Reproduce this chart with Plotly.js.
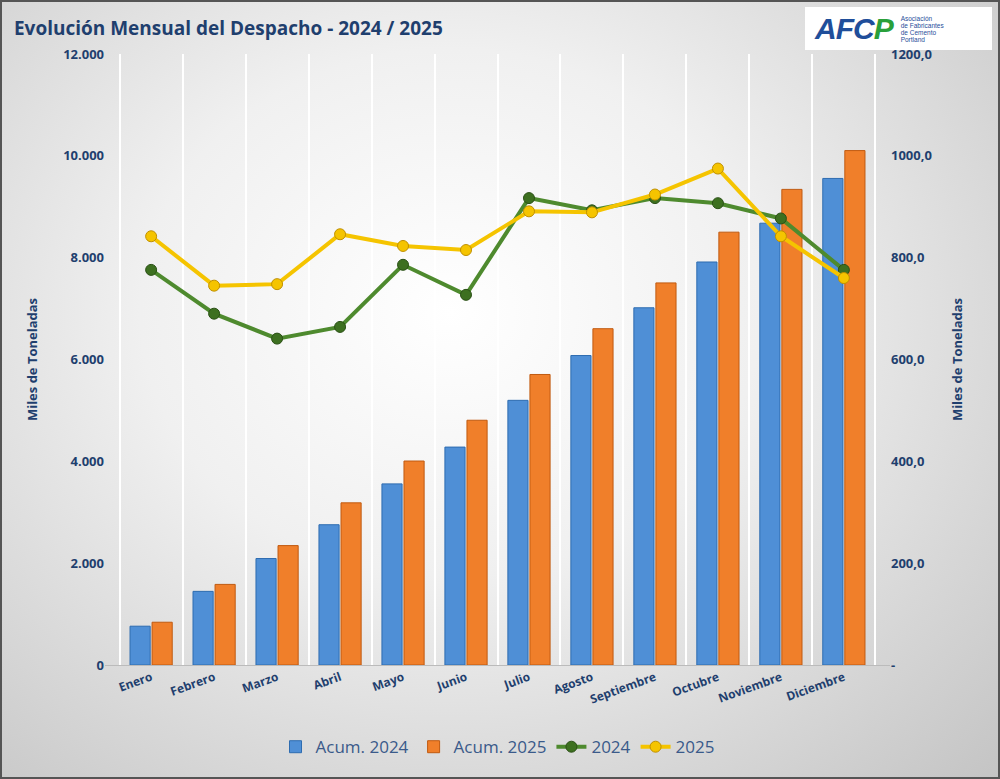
<!DOCTYPE html>
<html><head><meta charset="utf-8">
<script src="https://cdn.plot.ly/plotly-3.0.1.min.js"></script>
<style>
html,body{margin:0;padding:0;}
#wrap{width:996px;height:775px;border:2px solid #555;background:radial-gradient(ellipse at 45% 40%, #ffffff 0%, #f0f0f0 40%, #c4c4c4 100%);position:relative;}
#chart{width:996px;height:775px;}
#logo{position:absolute;left:803px;top:5px;width:187px;height:43px;background:#fff;display:flex;align-items:center;font-family:"Liberation Sans",Arial,sans-serif;}
#logo .big{font-size:30px;font-weight:bold;font-style:italic;color:#1f4e9a;margin-left:10px;letter-spacing:-1px}
#logo .big span{color:#2aa03a}
#logo .small{font-size:6.5px;color:#1f4e9a;margin-left:8px;line-height:7px}
</style></head><body>
<div id="wrap"><div id="chart"></div>
<div id="logo"><div class="big">AFC<span>P</span></div><div class="small">Asociación<br>de Fabricantes<br>de Cemento<br>Portland</div></div>
</div>
<script>
const months=["Enero","Febrero","Marzo","Abril","Mayo","Junio","Julio","Agosto","Septiembre","Octubre","Noviembre","Diciembre"];
const acum2024=[762,1446,2091,2755,3557,4280,5198,6078,7016,7915,8677,9556];
const acum2025=[840,1583,2345,3185,4006,4807,5706,6605,7504,8501,9341,10103];
const m2024=[776,690,641,664,786,727,917,893,917,907,877,776];
const m2025=[842,745,748,846,823,815,891,889,924,975,842,760];
const leftTicks=[0,2000,4000,6000,8000,10000,12000];
const leftText=["0","2.000","4.000","6.000","8.000","10.000","12.000"];
const rightTicks=[0,200,400,600,800,1000,1200];
const rightText=["-","200,0","400,0","600,0","800,0","1000,0","1200,0"];
const data=[
{type:"bar",name:"Acum. 2024",x:months,y:acum2024,marker:{color:"#4f8fd6",line:{color:"#2e6cb0",width:1}},width:0.32,offsetgroup:"a"},
{type:"bar",name:"Acum. 2025",x:months,y:acum2025,marker:{color:"#f07f2a",line:{color:"#c05a10",width:1}},width:0.32,offsetgroup:"b"},
{type:"scatter",mode:"lines+markers",name:"2024",x:months,y:m2024,yaxis:"y2",line:{color:"#4e8a2e",width:4},marker:{color:"#3d7020",size:11,line:{color:"#2a5015",width:1}}},
{type:"scatter",mode:"lines+markers",name:"2025",x:months,y:m2025,yaxis:"y2",line:{color:"#f5c400",width:4},marker:{color:"#f5c400",size:11,line:{color:"#c09000",width:1}}}
];
const f="Open Sans";
const layout={
width:996,height:775,paper_bgcolor:"rgba(0,0,0,0)",plot_bgcolor:"rgba(0,0,0,0)",
margin:{l:103,r:108,t:52,b:106},
title:{text:"<b>Evolución Mensual del Despacho - 2024 / 2025</b>",x:0.012,xanchor:"left",y:0.975,font:{family:f,size:19,color:"#1f3f6e"}},
bargap:0.3,barmode:"group",
xaxis:{tickangle:-20,tickson:"boundaries",ticks:"",tickfont:{family:f,size:12,color:"#1f3f6e",weight:"bold"},showgrid:true,gridcolor:"#ffffff",gridwidth:1.5,showline:true,linecolor:"#bbbbbb"},
yaxis:{range:[0,12000],tickvals:leftTicks,ticktext:leftText,tickfont:{family:f,size:13,color:"#1f3f6e",weight:"bold"},showgrid:false,zeroline:false,title:{text:"<b>Miles de Toneladas</b>",font:{family:f,size:13,color:"#1f3f6e"},standoff:22}},
yaxis2:{range:[0,1200],overlaying:"y",side:"right",tickvals:rightTicks,ticktext:rightText,tickfont:{family:f,size:13,color:"#1f3f6e",weight:"bold"},showgrid:false,zeroline:false,title:{text:"<b>Miles de Toneladas</b>",font:{family:f,size:13,color:"#1f3f6e"},standoff:22}},
legend:{orientation:"h",x:0.5,xanchor:"center",y:-0.105,yanchor:"top",font:{family:f,size:17,color:"#3a5a8a"},bgcolor:"rgba(0,0,0,0)"}
};
Plotly.newPlot("chart",data,layout,{displayModeBar:false});
</script></body></html>
